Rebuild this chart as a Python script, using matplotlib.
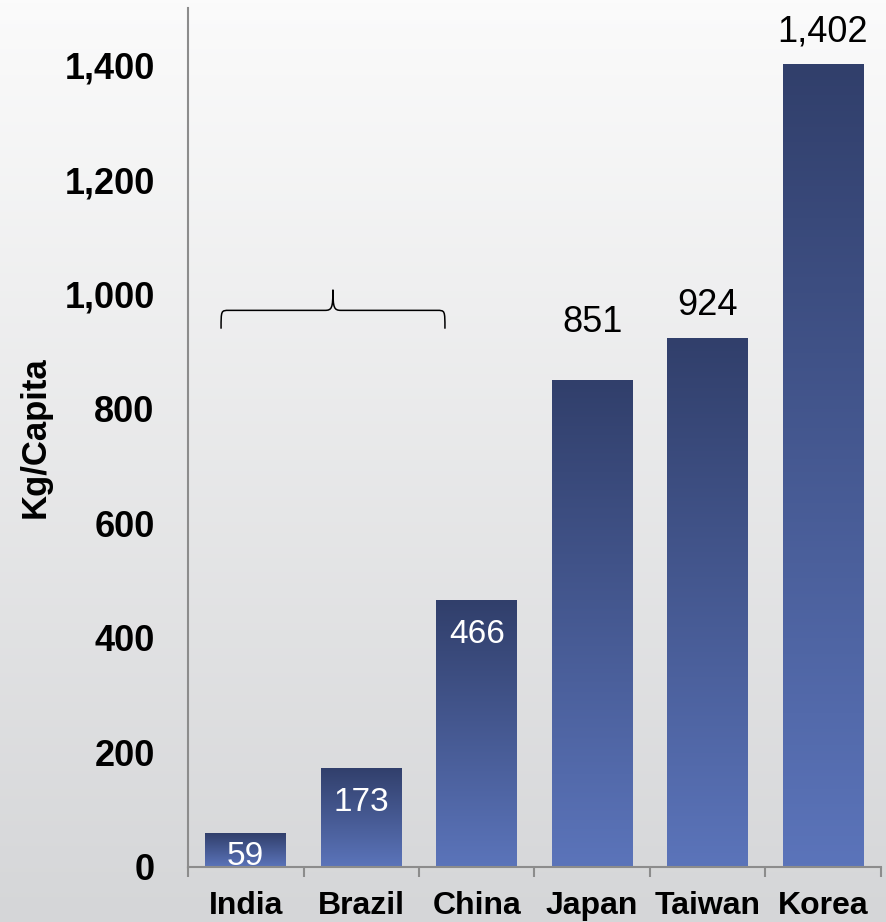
import numpy as np
import matplotlib.pyplot as plt
from matplotlib.colors import LinearSegmentedColormap
from matplotlib.path import Path
from matplotlib.patches import PathPatch
from matplotlib.ticker import FixedLocator, FuncFormatter, NullFormatter

countries = ['India', 'Brazil', 'China', 'Japan', 'Taiwan', 'Korea']
kg_per_capita = [59, 173, 466, 851, 924, 1402]
yticks = [0, 200, 400, 600, 800, 1000, 1200, 1400]

# lift (points) of label centres above the bar tops, for outside labels
label_lift = [0, 0, 0, 41, 23, 23]

plt.rcParams['font.family'] = ['Liberation Sans', 'DejaVu Sans']

fig = plt.figure(figsize=(8.87, 9.22), dpi=100)

# background gradient
bg = fig.add_axes([0, 0, 1, 1], zorder=-10)
bg_cmap = LinearSegmentedColormap.from_list('bg', ['#fbfbfb', '#d5d6d8'])
bg.imshow(np.linspace(0, 1, 256).reshape(-1, 1), cmap=bg_cmap, aspect='auto',
          extent=[0, 1, 0, 1])
bg.axis('off')

ax = fig.add_axes([0.212, 0.0597, 0.781, 0.9316])
ax.patch.set_alpha(0)

x = np.arange(len(countries))
bars = ax.bar(x, kg_per_capita, width=0.7, color='none', edgecolor='none')
bar_cmap = LinearSegmentedColormap.from_list('bar', ['#313f6b', '#5b74ba'])
grad = np.linspace(0, 1, 256).reshape(-1, 1)
for b in bars:
    x0, w, h = b.get_x(), b.get_width(), b.get_height()
    im = ax.imshow(grad, cmap=bar_cmap, aspect='auto', origin='upper',
                   extent=[x0, x0 + w, 0, h], zorder=2)
    im.set_clip_path(b)

ax.set_xlim(-0.5, 5.5)
ax.set_ylim(0, 1500)

# value labels
for i, v in enumerate(kg_per_capita):
    h_px = ax.transData.transform((0, v))[1] - ax.transData.transform((0, 0))[1]
    h_pt = h_px * 72 / fig.dpi
    if v < 500:
        t = ax.annotate(f'{v:,}', (i, v), xytext=(0, -min(25, 0.7 * h_pt)),
                        textcoords='offset points', ha='center', va='center',
                        fontsize=24, color='white', zorder=3)
        t.set_clip_path(bars[i])
    else:
        ax.annotate(f'{v:,}', (i, v), xytext=(0, label_lift[i]),
                    textcoords='offset points', ha='center', va='center',
                    fontsize=26, color='black', zorder=3)

# brace over India..China
xL, xC, xR = -0.214, 0.755, 1.725
yE, yM, yT = 940, 972, 1008
d = 0.07
verts = [(xL, yE), (xL, yM), (xL, yM), (xL + d, yM),
         (xC - d, yM),
         (xC - 0.01, yM), (xC, yM + 4), (xC, yT),
         (xC, yM + 4), (xC + 0.01, yM), (xC + d, yM),
         (xR - d, yM),
         (xR, yM), (xR, yM), (xR, yE)]
codes = [Path.MOVETO, Path.CURVE4, Path.CURVE4, Path.CURVE4,
         Path.LINETO,
         Path.CURVE4, Path.CURVE4, Path.CURVE4,
         Path.CURVE4, Path.CURVE4, Path.CURVE4,
         Path.LINETO,
         Path.CURVE4, Path.CURVE4, Path.CURVE4]
ax.add_patch(PathPatch(Path(verts, codes), fill=False, lw=1.1, color='black',
                       clip_on=False, zorder=4))

# axes styling
for s in ['top', 'right']:
    ax.spines[s].set_visible(False)
for s in ['left', 'bottom']:
    ax.spines[s].set_color('#8c8c8c')
    ax.spines[s].set_linewidth(1.5)

ax.xaxis.set_major_locator(FixedLocator(np.arange(-0.5, 6, 1)))
ax.xaxis.set_major_formatter(NullFormatter())
ax.xaxis.set_minor_locator(FixedLocator(x))
ax.set_xticklabels(countries, minor=True, fontsize=23, fontweight='bold')
ax.tick_params(axis='x', which='major', length=7, width=1.5, color='#8c8c8c',
               direction='out')
ax.tick_params(axis='x', which='minor', length=0, pad=17)

ax.set_yticks(yticks)
ax.yaxis.set_major_formatter(FuncFormatter(lambda v, p: f'{v:,.0f}'))
ax.tick_params(axis='y', length=0, pad=24, labelsize=26)
for lab in ax.get_yticklabels():
    lab.set_fontweight('bold')

fig.text(35 / 887, 1 - 437 / 922, 'Kg/Capita', rotation=90, ha='center',
         va='center', fontsize=25, fontweight='bold')

fig.savefig('out.png', dpi=100)
